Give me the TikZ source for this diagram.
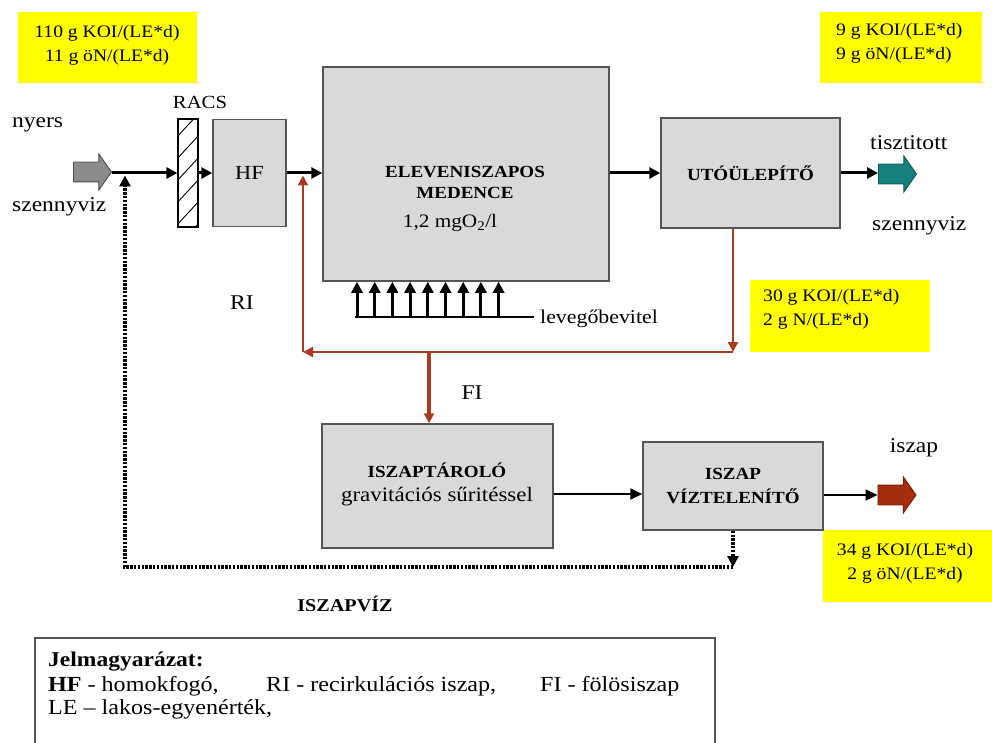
\documentclass[tikz,border=0pt]{standalone}
\usepackage{fontspec}
\setmainfont{Liberation Serif}[FakeStretch=1.12]
\usetikzlibrary{arrows.meta,shapes.arrows,calc}
\definecolor{boxgray}{RGB}{217,217,217}
\definecolor{boxedge}{RGB}{85,85,85}
\definecolor{rline}{RGB}{172,58,32}
\definecolor{tealarr}{RGB}{22,128,124}
\definecolor{brownarr}{RGB}{165,45,15}
\definecolor{ylw}{RGB}{255,255,0}
\definecolor{inarr}{RGB}{140,140,140}
\begin{document}
\begin{tikzpicture}[x=1pt,y=-1pt,
  every node/.style={inner sep=0pt, font=\fontsize{21}{24}\selectfont},
  procbox/.style={draw=boxedge, fill=boxgray, line width=1.5pt},
  ytext/.style={font=\fontsize{17.5}{24}\selectfont},
  btext/.style={font=\fontsize{17}{24}\selectfont\bfseries},
  legtext/.style={font=\fontsize{21.5}{24}\selectfont, anchor=west},
  flow/.style={line width=3pt, -{Triangle[length=11pt,width=11pt]}},
  thinflow/.style={line width=2pt, -{Triangle[length=12pt,width=11pt]}},
  redflow/.style={draw=rline, line width=2.2pt, -{Triangle[length=10pt,width=10pt]}},
  dotflow/.style={line width=3.6pt, dash pattern=on 2.4pt off 1.4pt, -{Triangle[length=11pt,width=11pt]}},
  airflow/.style={line width=3pt, -{Triangle[length=11pt,width=11pt]}},
  blockarrow/.style={single arrow, minimum height=38pt, minimum width=35pt,
     inner xsep=0pt, inner ysep=9.5pt, single arrow head extend=8pt,
     single arrow tip angle=110, line width=0.9pt}
]
\useasboundingbox (0,0) rectangle (992,743);
\clip (0,0) rectangle (992,743);

% yellow boxes
\fill[ylw] (18,12) rectangle (197,83);
\node[ytext, align=center] (y1t) at (107,45) {110 g KOI/(LE*d)\\11 g öN/(LE*d)};
\fill[ylw] (820,12) rectangle (982,83);
\node[ytext, align=left, anchor=west] (y2t) at (836,43) {9 g KOI/(LE*d)\\9 g öN/(LE*d)};
\fill[ylw] (750,280) rectangle (930,352);
\node[ytext, align=left, anchor=west] (y3t) at (763,309) {30 g KOI/(LE*d)\\2 g N/(LE*d)};
\fill[ylw] (823,530) rectangle (992,602);
\node[ytext, align=center] (y4t) at (905,563) {34 g KOI/(LE*d)\\2 g öN/(LE*d)};

% process boxes
\node[procbox, minimum width=73pt, minimum height=107pt, font=\fontsize{20}{24}\selectfont] (hf) at (249.5,173) {HF};
\node[draw, fill=white, line width=1.2pt, minimum width=20pt, minimum height=108pt] (racs) at (188,173) {};
\begin{scope}
  \clip (178,119) rectangle (198,227);
  \foreach \k in {0,...,6}
    \draw[line width=0.9pt] (176,138+\k*22) -- (200,112+\k*22);
\end{scope}
\draw[line width=1.3pt] (racs.south west) rectangle (racs.north east);
\node[procbox, minimum width=286pt, minimum height=214pt] (elev) at (466,174) {};
\node[btext] (e1) at (465,172) {ELEVENISZAPOS};
\node[btext] (e2) at (465,193) {MEDENCE};
\node[font=\fontsize{19}{24}\selectfont] (e3) at (450,223) {1,2 mgO\textsubscript{2}/l};
\node[procbox, btext, minimum width=179pt, minimum height=110pt] (uto) at (750.5,173) {UTÓÜLEPÍTŐ};
\node[procbox, minimum width=231pt, minimum height=124pt] (iszt) at (437.5,486) {};
\node[btext] (i1) at (437,470) {ISZAPTÁROLÓ};
\node[font=\fontsize{20.5}{24}\selectfont] (i2) at (437,497) {gravitációs sűritéssel};
\node[procbox, btext, align=center, minimum width=180pt, minimum height=88pt] (vizt) at (733,486) {ISZAP\\VÍZTELENÍTŐ};

% block arrows
\node[blockarrow, draw=inarr!55!black, fill=inarr] (in) at (89,172) {};
\node[blockarrow, draw=tealarr!70!black, fill=tealarr] (out) at (894,174) {};
\node[blockarrow, draw=brownarr!70!black, fill=brownarr] (sl) at (893.5,495) {};

% labels
\node[anchor=west] (lnyers) at (12,125) {nyers};
\node[anchor=west] (lszv1) at (12,207) {szennyviz};
\node[font=\fontsize{18.5}{22}\selectfont] (lracs) at (200,102) {RACS};
\node[anchor=west] (ltiszt) at (870,143) {tisztitott};
\node[anchor=west] (lszv2) at (872,226) {szennyviz};
\node (lri) at (242,303) {RI};
\node (lfi) at (472,393) {FI};
\node[font=\fontsize{18}{20}\selectfont\bfseries] (lisv) at (345,604) {ISZAPVÍZ};
\node (liszap) at (914,448) {iszap};

% main flow
\draw[flow] (in.east |- racs.west) -- (racs.west);
\draw[flow] (racs.east) -- (hf.west);
\draw[flow] (hf.east) -- (hf.east -| elev.west);
\draw[flow] (elev.east |- uto.west) -- (uto.west);
\draw[flow] (uto.east) -- (out.west |- uto.east);
\draw[thinflow] (iszt.east |- 0,494) -- (vizt.west |- 0,494);
\draw[thinflow] (vizt.east |- sl.west) -- (sl.west);

% aeration
\node[anchor=west, font=\fontsize{19.5}{22}\selectfont] (air) at (540,319) {levegőbevitel};
\draw[line width=1.4pt] (355,317) -- ($(air.west)+(-6,-2)$);
\foreach \x in {357,374.7,392.4,410.1,427.8,445.5,463.2,480.9,498.6}
  \draw[airflow] (\x,317) -- (\x,317 |- elev.south);

% red return sludge
\coordinate (rc1) at (733,352);
\coordinate (rc2) at (303,352);
\coordinate (rc3) at (303,175.5);
\coordinate (fi) at (429,352);
\draw[redflow] (uto.south -| vizt) -- (rc1);
\draw[redflow] (rc1) -- (rc2);
\draw[redflow] (rc2) -- (rc3);
\draw[redflow, line width=3.2pt] (fi) -- (fi |- iszt.north);

% dotted sludge water
\coordinate (d1) at (733,567);
\coordinate (d2) at (125,567);
\coordinate (d3) at (125,175.5);
\draw[dotflow] (vizt.south) -- (d1);
\draw[dotflow] (d1) -- (d2) -- (d3);

% legend
\draw[draw=boxedge, line width=1.6pt] (35,760) -- (35,638) -- (715,638) -- (715,760);
\node[legtext, font=\fontsize{21}{24}\selectfont\bfseries] (lg1) at (48,662) {Jelmagyarázat:};
\node[legtext] (lg2) at (48,686) {\textbf{HF} - homokfogó,};
\node[legtext] (lg3) at (266,686) {RI - recirkulációs iszap,};
\node[legtext] (lg4) at (540,686) {FI - fölösiszap};
\node[legtext] (lg5) at (48,709) {LE – lakos-egyenérték,};
\end{tikzpicture}
\end{document}
